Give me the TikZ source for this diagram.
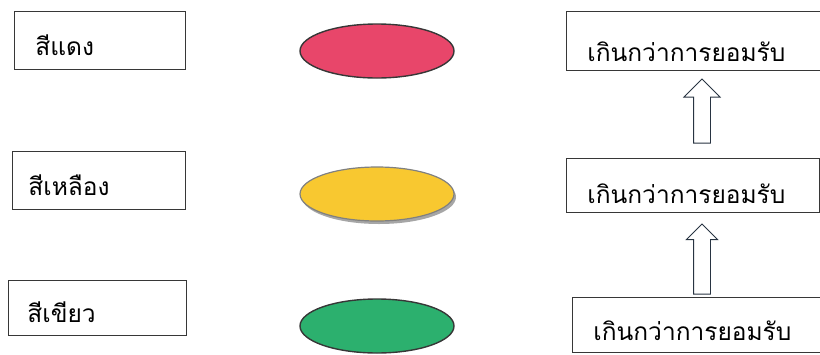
\documentclass[tikz,border=0pt]{standalone}
\usepackage{fontspec}
\newfontfamily\thaifont[Script=Thai]{Loma}
\usepackage{tikz}
\usetikzlibrary{shapes.geometric,shapes.arrows,shadows,calc}
\definecolor{lampRed}{RGB}{232,70,106}
\definecolor{lampYellow}{RGB}{248,200,48}
\definecolor{lampGreen}{RGB}{44,176,110}
\definecolor{inkGray}{RGB}{55,55,55}
\definecolor{arrowInk}{RGB}{40,52,66}

\tikzset{
  labelbox/.style={draw=inkGray, line width=0.9pt, anchor=west, align=left,
    minimum height=58pt, text height=30pt, text depth=0pt,
    font=\thaifont\fontsize{24.5}{27}\selectfont},
  lamp/.style={ellipse, draw=inkGray, line width=1.4pt,
    minimum width=154pt, minimum height=54pt},
  uparrow/.style={single arrow, draw=arrowInk, line width=0.9pt, fill=white,
    shape border rotate=90, inner sep=8pt, anchor=tail}
}

\begin{document}
\begin{tikzpicture}[x=1pt,y=-1pt]
  \useasboundingbox (0,0) rectangle (820,354);

  % colour names
  \node[labelbox, text width=129pt, inner xsep=21pt] (red) at (14,40) {สีแดง};
  \node[labelbox, text width=141pt, inner xsep=16pt] (yellow) at (12,180) {สีเหลือง};
  \node[labelbox, text width=140pt, inner xsep=19pt, minimum height=55pt] (green) at (8,307.5) {สีเขียว};

  % lamps
  \node[lamp, fill=lampRed] (lampR) at (377,51) {};
  \node[lamp, fill=lampYellow, draw=gray, line width=1.2pt,
        drop shadow={shadow xshift=2pt, shadow yshift=-3pt, fill=gray!70, opacity=1}] (lampY) at (377,194) {};
  \node[lamp, fill=lampGreen] (lampG) at (377,326) {};

  % levels
  \node[labelbox, text width=217pt, inner xsep=21pt, minimum height=59pt, text height=42pt] (top) at (566,40.5) {เกินกว่าการยอมรับ};
  \node[labelbox, text width=211pt, inner xsep=21pt, minimum height=54pt, text height=36pt] (mid) at (566,185) {เกินกว่าการยอมรับ};
  \node[labelbox, text width=211pt, inner xsep=21pt, minimum height=55pt, text height=31pt] (low) at (572,324.5) {เกินกว่าการยอมรับ};

  \coordinate (ax) at (702,0);
  \node[uparrow, minimum height=64pt, single arrow head extend=9.5pt] (up1) at ($(ax |- mid.north)+(0,-14)$) {};
  \node[uparrow, minimum height=70pt, single arrow head extend=7pt] (up2) at ($(ax |- low.north)+(0,-2)$) {};
\end{tikzpicture}
\end{document}
